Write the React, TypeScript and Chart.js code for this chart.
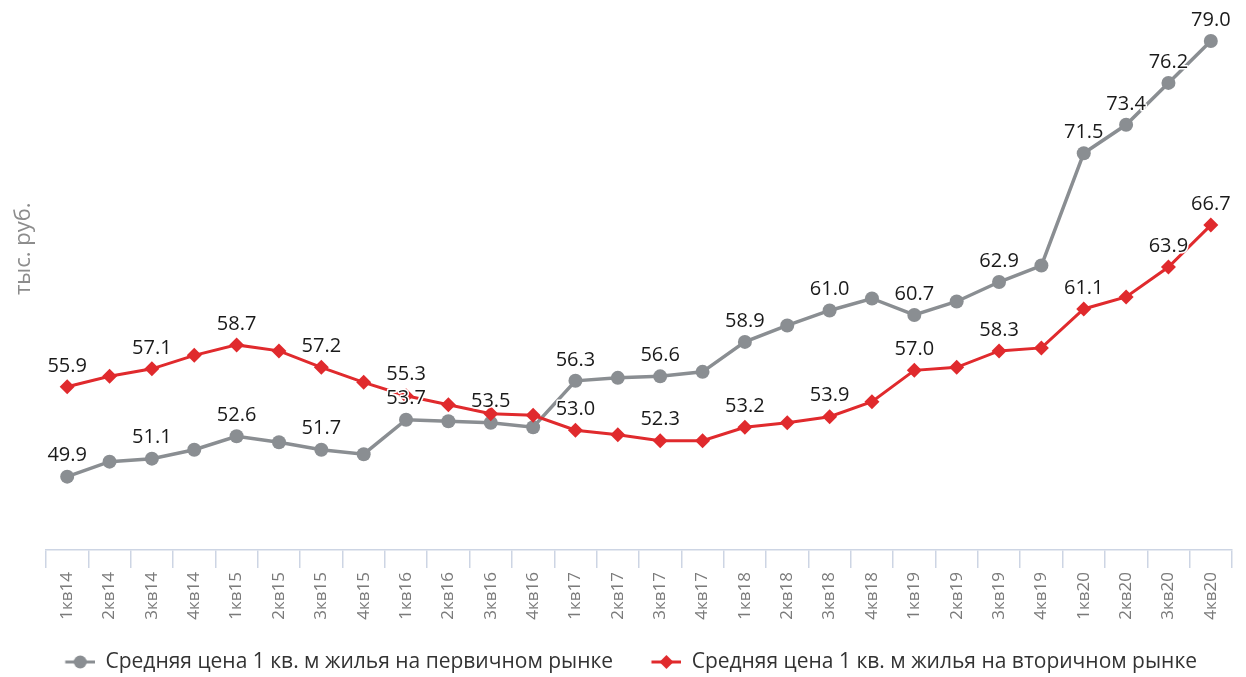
import React, { useEffect, useRef } from "react";
import { Chart, registerables } from "chart.js";

Chart.register(...registerables);

const categories = [
  "1кв14", "2кв14", "3кв14", "4кв14",
  "1кв15", "2кв15", "3кв15", "4кв15",
  "1кв16", "2кв16", "3кв16", "4кв16",
  "1кв17", "2кв17", "3кв17", "4кв17",
  "1кв18", "2кв18", "3кв18", "4кв18",
  "1кв19", "2кв19", "3кв19", "4кв19",
  "1кв20", "2кв20", "3кв20", "4кв20",
];

const primaryValues = [
  49.9, 50.9, 51.1, 51.7,
  52.6, 52.2, 51.7, 51.4,
  53.7, 53.6, 53.5, 53.2,
  56.3, 56.5, 56.6, 56.9,
  58.9, 60.0, 61.0, 61.8,
  60.7, 61.6, 62.9, 64.0,
  71.5, 73.4, 76.2, 79.0,
];

const secondaryValues = [
  55.9, 56.6, 57.1, 58.0,
  58.7, 58.3, 57.2, 56.2,
  55.3, 54.7, 54.1, 54.0,
  53.0, 52.7, 52.3, 52.3,
  53.2, 53.5, 53.9, 54.9,
  57.0, 57.2, 58.3, 58.5,
  61.1, 61.9, 63.9, 66.7,
];

const primaryLabelIdx = [0, 2, 4, 6, 8, 10, 12, 14, 16, 18, 20, 22, 24, 25, 26, 27];
const secondaryLabelIdx = [0, 2, 4, 6, 8, 12, 14, 16, 18, 20, 22, 24, 26, 27];

const seriesNames = [
  "Средняя цена 1 кв. м жилья на первичном рынке",
  "Средняя цена 1 кв. м жилья на вторичном рынке",
];

const yTitle = "тыс. руб.";

const GRAY = "#8a8e92";
const RED = "#e02a2d";
const FONT = "'Open Sans', 'Noto Sans', sans-serif";

const LEGEND_FONT = 21;
const LEGEND_PAD = 27.5;
const MARKER_W = 30;
const MARKER_MARGIN = 10.5;
const LEGEND_HEIGHT = 53;
const X_AXIS_HEIGHT = 74;
const Y_AXIS_WIDTH = 26.5;

function makeMarker(color: string, shape: "circle" | "diamond") {
  const w = MARKER_W + MARKER_MARGIN;
  const c = document.createElement("canvas");
  c.width = w;
  c.height = 16;
  const ctx = c.getContext("2d")!;
  const x0 = MARKER_MARGIN;
  const cx = x0 + MARKER_W / 2;
  ctx.strokeStyle = color;
  ctx.lineWidth = 3;
  ctx.beginPath();
  ctx.moveTo(x0, 8);
  ctx.lineTo(w, 8);
  ctx.stroke();
  ctx.fillStyle = color;
  ctx.beginPath();
  if (shape === "circle") {
    ctx.arc(cx, 8, 6.5, 0, Math.PI * 2);
  } else {
    ctx.moveTo(cx, 1);
    ctx.lineTo(cx + 7, 8);
    ctx.lineTo(cx, 15);
    ctx.lineTo(cx - 7, 8);
    ctx.closePath();
  }
  ctx.fill();
  return c;
}

const dataLabelPlugin = {
  id: "dataLabels",
  afterDatasetsDraw(chart: any) {
    const ctx = chart.ctx;
    const lists = [primaryLabelIdx, secondaryLabelIdx];
    ctx.save();
    ctx.font = `20px ${FONT}`;
    ctx.textAlign = "center";
    ctx.textBaseline = "middle";
    chart.data.datasets.forEach((ds: any, di: number) => {
      const meta = chart.getDatasetMeta(di);
      lists[di].forEach((i) => {
        const el = meta.data[i];
        if (!el) return;
        const txt = Number(ds.data[i]).toFixed(1);
        const x = el.x;
        const y = el.y - 21;
        ctx.lineWidth = 3;
        ctx.strokeStyle = "#ffffff";
        ctx.lineJoin = "round";
        ctx.strokeText(txt, x, y);
        ctx.fillStyle = "#1a1a1a";
        ctx.fillText(txt, x, y);
      });
    });
    ctx.restore();
  },
};

const yTitlePlugin = {
  id: "yTitle",
  afterDraw(chart: any) {
    const { ctx, chartArea } = chart;
    ctx.save();
    ctx.font = `22px ${FONT}`;
    ctx.fillStyle = "#8c8c8c";
    ctx.textAlign = "center";
    ctx.textBaseline = "middle";
    const y = chartArea.top + (chartArea.bottom - chartArea.top) * 0.425;
    ctx.translate(24, y);
    ctx.rotate(-Math.PI / 2);
    ctx.fillText(yTitle, 0, 0);
    ctx.restore();
  },
};

export default function App() {
  const ref = useRef<HTMLCanvasElement>(null);

  useEffect(() => {
    const markers = [makeMarker(GRAY, "circle"), makeMarker(RED, "diamond")];
    const chart = new Chart(ref.current!, {
      type: "line",
      data: {
        labels: categories,
        datasets: [
          {
            label: seriesNames[0],
            data: primaryValues,
            borderColor: GRAY,
            backgroundColor: GRAY,
            borderWidth: 3.5,
            pointStyle: "circle",
            pointRadius: 7,
            pointHoverRadius: 7,
            pointBorderWidth: 0,
            order: 1,
          },
          {
            label: seriesNames[1],
            data: secondaryValues,
            borderColor: RED,
            backgroundColor: RED,
            borderWidth: 3,
            pointStyle: "rectRot",
            pointRadius: 7.5,
            pointHoverRadius: 7.5,
            pointBorderWidth: 0,
            order: 0,
          },
        ],
      },
      options: {
        animation: false,
        responsive: false,
        layout: { padding: { left: 19.5, right: 14, top: 26, bottom: 0 } },
        scales: {
          x: {
            type: "category",
            offset: true,
            afterFit: (scale: any) => {
              scale.height = X_AXIS_HEIGHT;
            },
            grid: {
              offset: true,
              drawOnChartArea: false,
              drawTicks: true,
              tickLength: 18,
              color: "#cdd5e4",
              lineWidth: 1.5,
            },
            border: { display: true, color: "#cdd5e4", width: 1.5 },
            ticks: {
              autoSkip: false,
              minRotation: 90,
              maxRotation: 90,
              padding: 4,
              color: "#7a7a7a",
              font: { family: FONT, size: 17 },
            },
          },
          y: {
            display: true,
            min: 45,
            max: 80,
            afterFit: (scale: any) => {
              scale.width = Y_AXIS_WIDTH;
            },
            grid: { display: false },
            border: { display: false },
            ticks: { display: false },
          },
        },
        plugins: {
          legend: {
            display: true,
            position: "bottom",
            maxHeight: LEGEND_HEIGHT,
            labels: {
              usePointStyle: true,
              pointStyleWidth: MARKER_W + MARKER_MARGIN,
              padding: LEGEND_PAD,
              color: "#333333",
              font: { family: FONT, size: LEGEND_FONT },
              generateLabels: (c: any) =>
                c.data.datasets.map((ds: any, i: number) => ({
                  text: ds.label,
                  pointStyle: markers[i],
                  fillStyle: ds.borderColor,
                  strokeStyle: ds.borderColor,
                  lineWidth: 0,
                  hidden: false,
                  datasetIndex: i,
                  fontColor: "#333333",
                })),
            },
          },
          title: { display: false },
          tooltip: { enabled: false },
        },
      },
      plugins: [dataLabelPlugin, yTitlePlugin],
    });
    return () => chart.destroy();
  }, []);

  return (
    <div style={{ position: "fixed", left: 0, top: 0, width: 1246, height: 677, background: "#fff" }}>
      <canvas ref={ref} width={1246} height={677} />
    </div>
  );
}
